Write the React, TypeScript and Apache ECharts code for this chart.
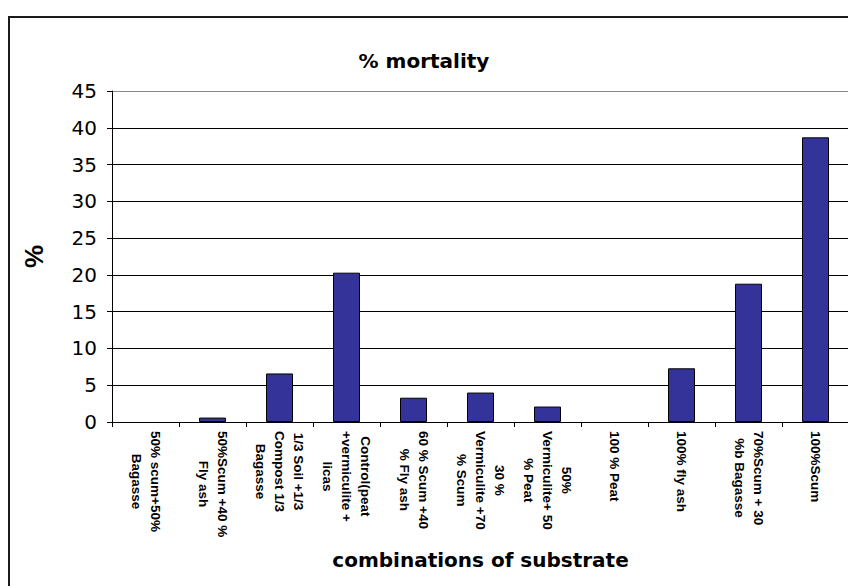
import React, { useEffect, useRef } from "react";
import * as echarts from "echarts";

const categories: string[] = [
  "50% scum+50%\nBagasse",
  "50%Scum +40 %\nFly ash",
  "1/3 Soil +1/3\nCompost 1/3\nBagasse",
  "Control(peat\n+vermiculite +\nlicas",
  "60 % Scum +40\n% Fly ash",
  "30 %\nVermiculite +70\n% Scum",
  "50%\nVermiculite+ 50\n% Peat",
  "100 % Peat",
  "100% fly ash",
  "70%Scum + 30\n%b Bagasse",
  "100%Scum",
];

const mortality: number[] = [0, 0.6, 6.6, 20.3, 3.3, 4.0, 2.1, 0, 7.3, 18.8, 38.7];

const yTicks: number[] = [0, 5, 10, 15, 20, 25, 30, 35, 40, 45];

const chartTitle = "% mortality";
const xTitle = "combinations of substrate";
const yTitle = "%";

export default function App() {
  const ref = useRef<HTMLDivElement>(null);

  useEffect(() => {
    document.body.style.margin = "0";
    if (!ref.current) return;
    const chart = echarts.init(ref.current, null, { renderer: "svg" });
    const gridColors = yTicks.map((t, i) => (i === yTicks.length - 1 ? "#888888" : "#000000"));
    const barData = mortality.map((v) =>
      v === 0 ? { value: v, itemStyle: { borderWidth: 0, opacity: 0 } } : { value: v }
    );
    chart.setOption({
      animation: false,
      backgroundColor: "#ffffff",
      title: {
        text: chartTitle,
        left: "center",
        top: 46,
        textStyle: {
          fontFamily: "DejaVu Sans",
          fontWeight: "bold",
          fontSize: 20,
          color: "#000",
        },
      },
      graphic: [
        {
          type: "rect",
          silent: true,
          z: -10,
          shape: { x: 9, y: 17, width: 900, height: 700 },
          style: { fill: "none", stroke: "#1a1a1a", lineWidth: 2 },
        },
      ],
      grid: {
        left: 112,
        top: 91,
        width: 737,
        height: 331,
        containLabel: false,
        outerBoundsMode: "none",
      },
      xAxis: {
        type: "category",
        data: categories,
        name: xTitle,
        nameLocation: "middle",
        nameGap: 128,
        nameTextStyle: {
          fontFamily: "DejaVu Sans",
          fontWeight: "bold",
          fontSize: 20,
          color: "#000",
        },
        axisLine: { lineStyle: { color: "#000", width: 1 } },
        axisTick: { show: true, length: 5, lineStyle: { color: "#000" } },
        axisLabel: {
          interval: 0,
          rotate: -90,
          margin: 9,
          fontFamily: "Liberation Sans",
          fontWeight: "bold",
          fontSize: 13.5,
          color: "#000",
          formatter: (v: string) =>
            v
              .split("\n")
              .map((s) => `{c|${s}}`)
              .join("\n"),
          rich: {
            c: {
              align: "center",
              lineHeight: 19,
              fontFamily: "Liberation Sans",
              fontWeight: "bold",
              fontSize: 13.5,
              color: "#000",
            },
          },
        },
      },
      yAxis: {
        type: "value",
        min: 0,
        max: 45,
        interval: 5,
        name: yTitle,
        nameLocation: "middle",
        nameGap: 65,
        nameTextStyle: {
          fontFamily: "Liberation Sans",
          fontWeight: "bold",
          fontSize: 26,
          color: "#000",
        },
        axisLine: { show: true, lineStyle: { color: "#000", width: 1 } },
        axisTick: { show: true, length: 5, lineStyle: { color: "#000" } },
        axisLabel: {
          margin: 15,
          fontFamily: "DejaVu Sans",
          fontSize: 20,
          color: "#000",
        },
        splitLine: { show: true, lineStyle: { color: gridColors, width: 1 } },
      },
      series: [
        {
          type: "bar",
          data: barData,
          barWidth: 27,
          itemStyle: { color: "#333399", borderColor: "#000", borderWidth: 1 },
        },
      ],
    });
    return () => chart.dispose();
  }, []);

  return (
    <div
      ref={ref}
      style={{ position: "absolute", left: 0, top: 0, width: 848, height: 586 }}
    />
  );
}
